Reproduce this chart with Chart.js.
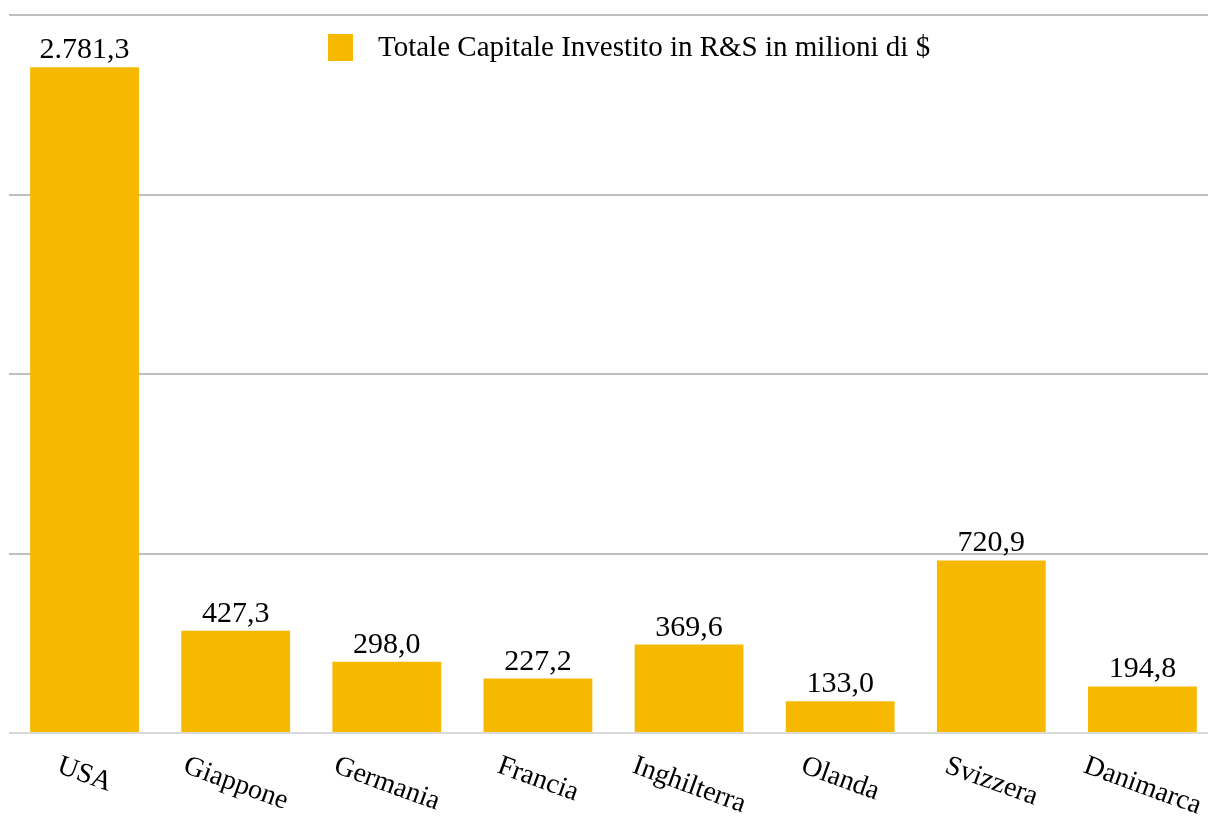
<!DOCTYPE html>
<html>
<head>
<meta charset="utf-8">
<title>Capitale investito in R&amp;S</title>
<script src="https://cdn.jsdelivr.net/npm/chart.js@4.4.1/dist/chart.umd.min.js"></script>
<style>
html,body{margin:0;padding:0;background:#fff;overflow:hidden;}
/* canvas is a bit wider than the page: the last category runs past the edge */
#wrap{position:relative;width:1208px;height:819px;overflow:hidden;}
#rsChart{display:block;}
</style>
</head>
<body>
<div id="wrap"><canvas id="rsChart" width="1218" height="819"></canvas></div>
<script>
const paesi=["USA","Giappone","Germania","Francia","Inghilterra","Olanda","Svizzera","Danimarca"];
const capitale=[2781.3,427.3,298.0,227.2,369.6,133.0,720.9,194.8];
const yTicks=[0,750,1500,2250,3000];
const serieNome="Totale Capitale Investito in R&S in milioni di $";

const giallo="#f6b900";
const serif="'Liberation Serif','Times New Roman',serif";

// 2781.3 -> "2.781,3"
function formatIt(v){
    const parts=v.toFixed(1).split(".");
    const intero=parts[0].replace(/\B(?=(\d{3})+(?!\d))/g,".");
    return intero+","+parts[1];
}

// value above each bar
const valueLabels={
    id:"valueLabels",
    afterDatasetsDraw(chart){
        const ctx=chart.ctx;
        const meta=chart.getDatasetMeta(0);
        ctx.save();
        ctx.font="30px "+serif;
        ctx.fillStyle="#000";
        ctx.textAlign="center";
        ctx.textBaseline="alphabetic";
        meta.data.forEach((bar,i)=>{
            ctx.fillText(formatIt(capitale[i]),bar.x,bar.y-9);
        });
        ctx.restore();
    }
};

// country names, slanted downwards under the axis
const slantLabels={
    id:"slantLabels",
    afterDraw(chart){
        const ctx=chart.ctx;
        const xs=chart.scales.x;
        const ang=20*Math.PI/180;
        const top=chart.chartArea.bottom+19;
        const size=28;
        ctx.save();
        ctx.font=size+"px "+serif;
        ctx.fillStyle="#000";
        ctx.textAlign="center";
        ctx.textBaseline="middle";
        paesi.forEach((nome,i)=>{
            const w=ctx.measureText(nome).width;
            const bh=w*Math.sin(ang)+size*Math.cos(ang);
            ctx.save();
            ctx.translate(xs.getPixelForValue(i),top+bh/2);
            ctx.rotate(ang);
            ctx.fillText(nome,0,0);
            ctx.restore();
        });
        ctx.restore();
    }
};

// single legend entry
const legendaSerie={
    id:"legendaSerie",
    afterDraw(chart){
        const ctx=chart.ctx;
        ctx.save();
        ctx.fillStyle=giallo;
        ctx.fillRect(328,34,25,27);
        ctx.font="29px "+serif;
        ctx.fillStyle="#000";
        ctx.textBaseline="alphabetic";
        ctx.fillText(serieNome,378,56);
        ctx.restore();
    }
};

new Chart(document.getElementById("rsChart"),{
    type:"bar",
    data:{
        labels:paesi,
        datasets:[{
            label:serieNome,
            data:capitale,
            backgroundColor:giallo,
            barPercentage:0.72,
            categoryPercentage:1
        }]
    },
    options:{
        responsive:false,
        animation:false,
        devicePixelRatio:1,
        layout:{padding:{top:15,left:9,right:0,bottom:86}},
        plugins:{legend:{display:false},tooltip:{enabled:false}},
        scales:{
            x:{
                ticks:{display:false},
                grid:{display:false,drawTicks:false},
                border:{display:false}
            },
            y:{
                min:0,
                max:3000,
                afterBuildTicks:s=>{s.ticks=yTicks.map(v=>({value:v}));},
                ticks:{display:false},
                border:{display:false},
                grid:{
                    drawTicks:false,
                    lineWidth:2,
                    color:c=>c.tick&&c.tick.value===0?"#d9d9d9":"#bfbfbf"
                }
            }
        }
    },
    plugins:[valueLabels,slantLabels,legendaSerie]
});
</script>
</body>
</html>
